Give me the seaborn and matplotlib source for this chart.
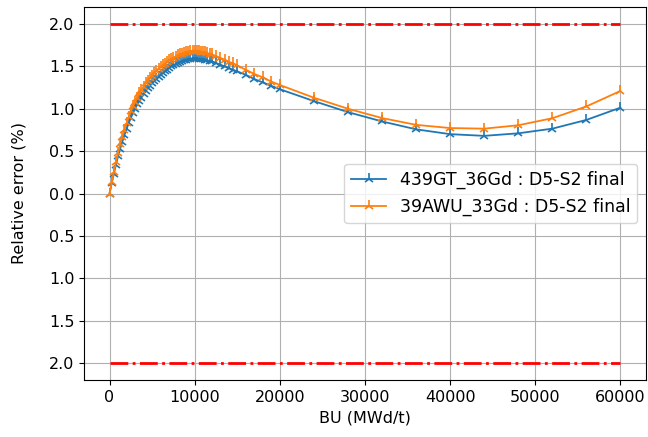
import matplotlib
matplotlib.use("Agg")
import matplotlib.pyplot as plt
import seaborn as sns
import pandas as pd

# Burnup steps (MWd/t)
bu = [0, 250, 500, 750, 1000, 1250, 1500, 1750, 2000, 2250, 2500, 2750,
      3000, 3250, 3500, 3750, 4000, 4250, 4500, 4750, 5000, 5250, 5500, 5750,
      6000, 6250, 6500, 6750, 7000, 7250, 7500, 7750, 8000, 8250, 8500, 8750,
      9000, 9250, 9500, 9750, 10000, 10250, 10500, 10750, 11000, 11250, 11500,
      11750, 12000, 12500, 13000, 13500, 14000, 14500, 15000, 16000, 17000,
      18000, 19000, 20000, 24000, 28000, 32000, 36000, 40000, 44000, 48000,
      52000, 56000, 60000]

# 439GT_36Gd : D5-S2 final
err_439gt = [0.00, 0.12, 0.23, 0.34, 0.44, 0.53, 0.61, 0.69, 0.76, 0.83, 0.89, 0.95,
             1.00, 1.05, 1.09, 1.13, 1.17, 1.21, 1.24, 1.27, 1.30, 1.33, 1.35, 1.38,
             1.40, 1.42, 1.44, 1.46, 1.48, 1.50, 1.51, 1.53, 1.54, 1.55, 1.56, 1.57,
             1.58, 1.585, 1.59, 1.595, 1.595, 1.595, 1.59, 1.59, 1.585, 1.58, 1.57,
             1.565, 1.56, 1.54, 1.52, 1.50, 1.48, 1.46, 1.44, 1.40, 1.35,
             1.31, 1.27, 1.23, 1.09, 0.96, 0.85, 0.757, 0.70, 0.68, 0.71,
             0.765, 0.868, 1.013]

# 39AWU_33Gd : D5-S2 final
err_39awu = [0.00, 0.13, 0.25, 0.37, 0.48, 0.58, 0.67, 0.75, 0.83, 0.90, 0.97, 1.03,
             1.08, 1.13, 1.18, 1.22, 1.26, 1.30, 1.33, 1.36, 1.39, 1.42, 1.45, 1.47,
             1.49, 1.51, 1.53, 1.55, 1.57, 1.585, 1.60, 1.615, 1.63, 1.64, 1.65, 1.66,
             1.67, 1.675, 1.68, 1.685, 1.685, 1.685, 1.68, 1.675, 1.67, 1.665, 1.655,
             1.65, 1.64, 1.62, 1.60, 1.58, 1.555, 1.535, 1.51, 1.46, 1.41,
             1.37, 1.32, 1.28, 1.13, 1.00, 0.89, 0.81, 0.772, 0.765, 0.805,
             0.888, 1.027, 1.21]

series_names = ["439GT_36Gd : D5-S2 final", "39AWU_33Gd : D5-S2 final"]
series_colors = ["#1f77b4", "#ff7f0e"]

limit_bu = [0, 60000]
limit_value = 2.0

ytick_values = [-2.0, -1.5, -1.0, -0.5, 0.0, 0.5, 1.0, 1.5, 2.0]
ytick_labels = ["2.0", "1.5", "1.0", "0.5", "0.0", "0.5", "1.0", "1.5", "2.0"]
xtick_values = [0, 10000, 20000, 30000, 40000, 50000, 60000]

plt.rcParams["font.family"] = ["DejaVu Sans"]
plt.rcParams["font.size"] = 11.5

fig = plt.figure(figsize=(6.48, 4.37), dpi=100)
ax = fig.add_axes([84 / 648, 1 - 380 / 437, (646 - 84) / 648, (380 - 7) / 437])

for name, vals, col in zip(series_names, [err_439gt, err_39awu], series_colors):
    d = pd.DataFrame({"BU": bu, "err": vals})
    sns.lineplot(data=d, x="BU", y="err", ax=ax, color=col, label=name,
                 marker="2", markersize=8, markeredgewidth=1.2,
                 markeredgecolor=col, linewidth=1.3, sort=False,
                 estimator=None)

ax.plot(limit_bu, [limit_value, limit_value], color="red", linestyle="-.",
        linewidth=2, label="_nolegend_")
ax.plot(limit_bu, [-limit_value, -limit_value], color="red", linestyle="-.",
        linewidth=2, label="_nolegend_")

ax.set_ylim(-2.2, 2.2)
ax.set_xlim(-3000, 63000)
ax.set_yticks(ytick_values)
ax.set_yticklabels(ytick_labels)
ax.set_xticks(xtick_values)
ax.grid(True, color="#b0b0b0", linewidth=0.8)
ax.set_axisbelow(True)
ax.set_xlabel("BU (MWd/t)")
ax.set_ylabel("Relative error (%)", labelpad=16)

handles, labels = ax.get_legend_handles_labels()
ax.legend(handles[:2], labels[:2], loc="center right", fontsize=12.5)

fig.savefig("out.png", dpi=100)
